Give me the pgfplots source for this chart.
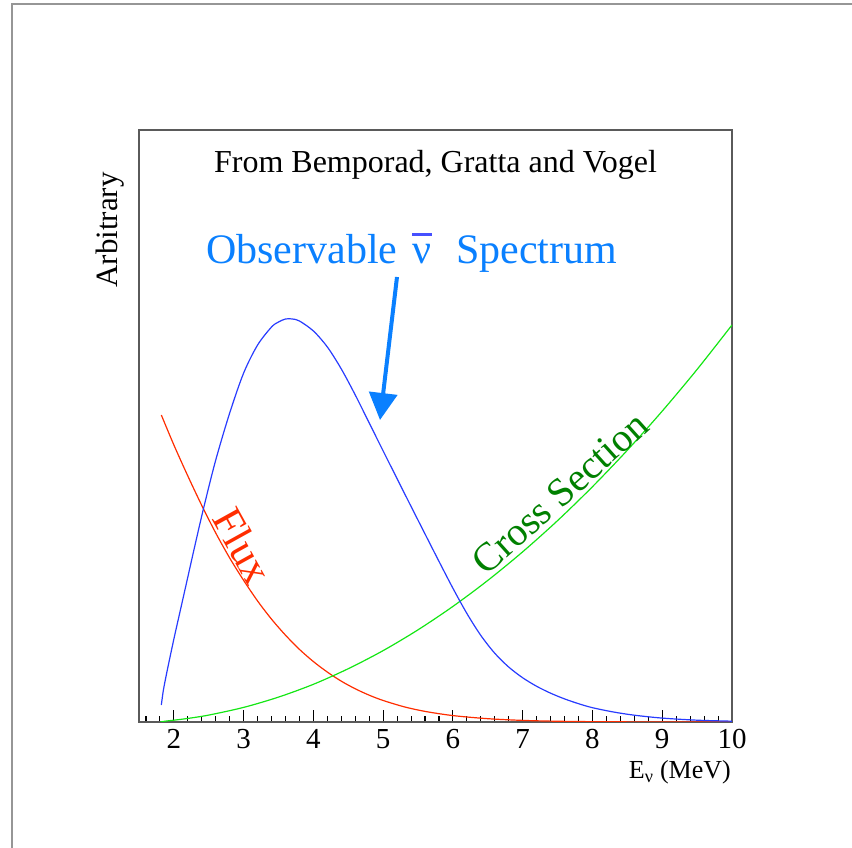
\documentclass[border=0pt]{standalone}
\usepackage{fontspec}
\setmainfont{Liberation Serif}
\usepackage{pgfplots}
\pgfplotsset{compat=1.18}
\usetikzlibrary{arrows.meta}

\definecolor{specblue}{RGB}{40,60,255}
\definecolor{labelblue}{RGB}{10,128,255}
\definecolor{barblue}{RGB}{70,80,255}
\definecolor{fluxred}{RGB}{255,45,0}
\definecolor{xsecgreen}{RGB}{20,230,20}
\definecolor{textgreen}{RGB}{0,128,0}
\definecolor{framegray}{RGB}{90,90,90}
\definecolor{pagegray}{RGB}{150,150,150}

\begin{document}
\begin{tikzpicture}[x=1pt,y=1pt]
\useasboundingbox (0,0) rectangle (852,848);
% slide frame
\draw[pagegray, line width=1.5pt] (12,0) -- (12,844) -- (852,844);

\begin{axis}[
  at={(139pt,126pt)}, anchor=south west,
  scale only axis, width=593pt, height=592pt,
  xmin=1.5, xmax=10, ymin=0, ymax=592,
  axis line style={framegray, line width=1.5pt},
  xtick={2,3,...,10},
  minor xtick={1.6,1.8,...,9.9},
  ytick=\empty,
  tick pos=left,
  tick align=inside,
  major tick length=12pt, minor tick length=6pt,
  every tick/.append style={black, line width=1.1pt},
  xticklabel style={font=\fontsize{29}{34}\selectfont, yshift=-4pt},
  /pgf/number format/assume math mode=true,
]
% neutrino flux
\addplot[fluxred, line width=1.2pt, smooth] coordinates {
(1.82,307) (2.0,277) (2.2,246) (2.4,216.5) (2.6,189) (2.8,164) (3.0,141.6)
(3.2,121) (3.4,102.8) (3.6,86.8) (3.8,72.6) (4.0,60.4) (4.2,49.9) (4.4,40.8)
(4.6,33.2) (4.8,26.8) (5.0,21.5) (5.3,15.2) (5.6,10.6) (6.0,6.4) (6.5,3.3)
(7.0,1.6) (7.5,0.74) (8.0,0.33) (8.5,0.14) (9.0,0.05) (10.0,0.005)
};
% inverse beta decay cross section
\addplot[xsecgreen, line width=1.2pt, smooth] coordinates {
(1.806,0) (1.9,1.04) (2.0,1.8) (2.2,3.57) (2.5,6.92) (3.0,14.6) (3.5,24.9)
(4.0,37.7) (4.5,53.3) (5.0,71.4) (5.5,92.2) (6.0,115.6) (6.5,141.6)
(7.0,170.2) (7.5,201.4) (8.0,235.3) (8.5,271.8) (9.0,310.9) (9.5,352.6)
(10.0,397)
};
% observable spectrum
\addplot[specblue, line width=1.2pt, smooth] coordinates {
(1.82,17) (1.85,32) (1.90,50) (2.0,83) (2.1,114) (2.2,145) (2.3,176)
(2.43,215) (2.6,262) (2.8,309) (3.0,349) (3.2,377) (3.4,395) (3.5,400)
(3.6,403) (3.7,403) (3.8,401) (4.0,391) (4.2,375) (4.4,353) (4.6,327)
(4.8,299) (5.0,271) (5.2,243.2) (5.4,215.5) (5.6,188) (5.8,160.6)
(6.0,133.7) (6.2,108.5) (6.4,86.5) (6.6,68.7) (6.8,54.9) (7.0,44.2)
(7.2,35.7) (7.4,28.8) (7.6,23.1) (7.8,18.3) (8.0,14.3) (8.3,10)
(8.6,6.8) (9.0,3.9) (9.5,1.8) (10.0,0.8)
};
\end{axis}

% annotations
\node[anchor=base, inner sep=0, font=\fontsize{32}{38}\selectfont] at (435.5,675) {From Bemporad, Gratta and Vogel};
\node[anchor=base west, inner sep=0, text=labelblue, font=\fontsize{42}{50}\selectfont] at (206,584) {Observable};
\node[anchor=base west, inner sep=0, text=labelblue, font=\fontsize{42}{50}\selectfont] at (412,584) {ν};
\draw[barblue, line width=3pt] (412,613) -- (432,613);
\node[anchor=base west, inner sep=0, text=labelblue, font=\fontsize{42}{50}\selectfont] at (456,584) {Spectrum};
\draw[labelblue, line width=4pt, -{Triangle[width=28pt,length=27pt]}] (397,571) -- (380,428);

\node[text=fluxred, rotate=-61, inner sep=0, font=\fontsize{43}{50}\selectfont] at (243,302) {Flux};
\node[text=textgreen, rotate=42, inner sep=0, font=\fontsize{40}{48}\selectfont] at (560,355) {Cross Section};

\node[rotate=90, anchor=base east, inner sep=0, font=\fontsize{31}{37}\selectfont] at (117,676) {Arbitrary};
\node[anchor=base east, inner sep=0, font=\fontsize{26}{31}\selectfont] at (731,69) {E\textsubscript{ν} (MeV)};
\end{tikzpicture}
\end{document}
